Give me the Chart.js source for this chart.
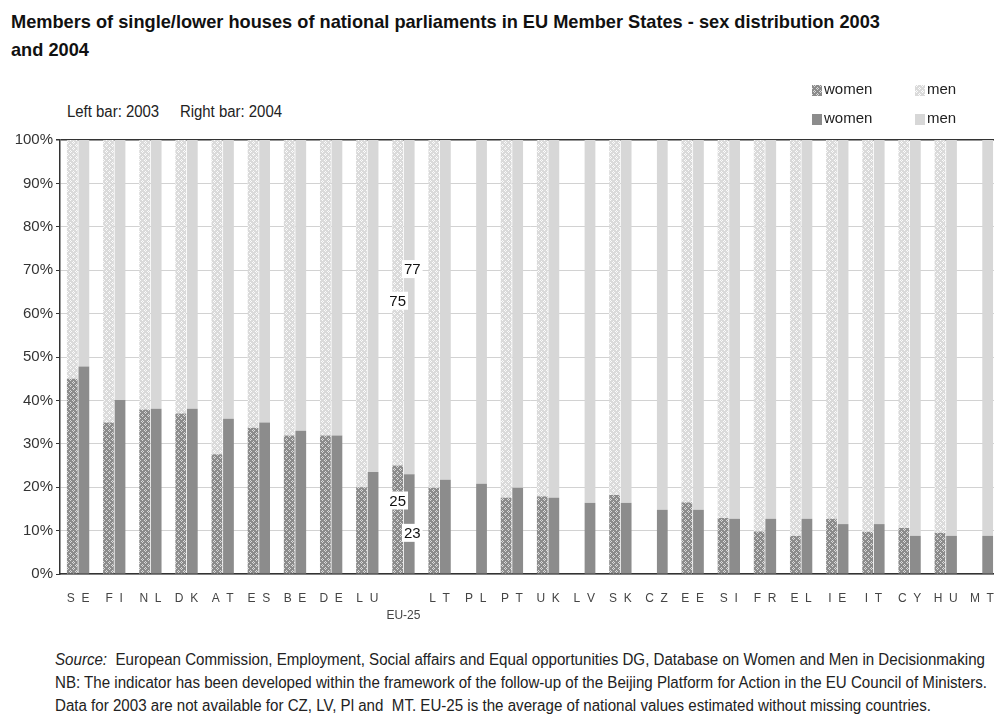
<!DOCTYPE html>
<html>
<head>
<meta charset="utf-8">
<title>Members of national parliaments - sex distribution 2003 and 2004</title>
<script src="https://cdn.jsdelivr.net/npm/chart.js@4.4.1/dist/chart.umd.min.js"></script>
<style>
  body {
    margin: 0;
    width: 994px;
    height: 719px;
    overflow: hidden;
    background: #fff;
    font-family: "Liberation Sans", Arial, sans-serif;
    position: relative;
  }
  .fit {
    position: absolute;
    transform-origin: 0 0;
    white-space: nowrap;
  }
  #title {
    left: 11px;
    top: 8px;
    font-weight: bold;
    font-size: 19px;
    line-height: 28px;
    color: #111;
  }
  #years {
    left: 67px;
    top: 102px;
    font-size: 16px;
    line-height: 20px;
    color: #222;
  }
  #chartBox {
    position: absolute;
    left: 0;
    top: 75px;
  }
  #notes {
    left: 55px;
    top: 648px;
    font-size: 16px;
    line-height: 23px;
    color: #222;
  }
</style>
</head>
<body>
<div id="title" class="fit"><span class="ruler">Members of single/lower houses of national parliaments in EU Member States - sex distribution 2003</span><br>and 2004</div>
<div id="years" class="fit"><span class="ruler">Left bar: 2003&nbsp;&nbsp;&nbsp;&nbsp; Right bar: 2004</span></div>
<div id="chartBox"><canvas id="chart" width="1010" height="560"></canvas></div>
<div id="notes" class="fit">
  <span class="ruler"><i>Source:</i>&nbsp; European Commission, Employment, Social affairs and Equal opportunities DG, Database on Women and Men in Decisionmaking</span><br>
  NB: The indicator has been developed within the framework of the follow-up of the Beijing Platform for Action in the EU Council of Ministers.<br>
  Data for 2003 are not available for CZ, LV, Pl and&nbsp; MT. EU-25 is the average of national values estimated without missing countries.
</div>

<script>
'use strict';

let countries = ['SE', 'FI', 'NL', 'DK', 'AT', 'ES', 'BE', 'DE', 'LU', 'EU-25', 'LT', 'PL', 'PT',
  'UK', 'LV', 'SK', 'CZ', 'EE', 'SI', 'FR', 'EL', 'IE', 'IT', 'CY', 'HU', 'MT'];

// share of seats in %, null = no data for that year
let women2003 = [45, 34.9, 37.9, 37, 27.6, 33.7, 31.9, 31.9, 20, 25, 19.9, null, 17.6,
  17.9, null, 18.2, null, 16.5, 12.9, 9.8, 8.8, 12.7, 9.7, 10.6, 9.5, null];
let men2003 = [55, 65.1, 62.1, 63, 72.4, 66.3, 68.1, 68.1, 80, 75, 80.1, null, 82.4,
  82.1, null, 81.8, null, 83.5, 87.1, 90.2, 91.2, 87.3, 90.3, 89.4, 90.5, null];
let women2004 = [47.8, 40.1, 38.1, 38.1, 35.8, 34.9, 33, 31.9, 23.5, 23, 21.7, 20.8, 19.9,
  17.6, 16.4, 16.4, 14.8, 14.8, 12.7, 12.7, 12.7, 11.5, 11.5, 8.8, 8.8, 8.8];
let men2004 = [52.2, 59.9, 61.9, 61.9, 64.2, 65.1, 67, 68.1, 76.5, 77, 78.3, 79.2, 80.1,
  82.4, 83.6, 83.6, 85.2, 85.2, 87.3, 87.3, 87.3, 88.5, 88.5, 91.2, 91.2, 91.2];

let yTicks = [0, 10, 20, 30, 40, 50, 60, 70, 80, 90, 100];

// squeeze the text blocks so their first line has the wanted width
function fitWidth(id, target) {
  let el = document.getElementById(id);
  let w = el.querySelector('.ruler').getBoundingClientRect().width;
  el.style.transform = 'scaleX(' + (target / w) + ')';
}
fitWidth('title', 869);
fitWidth('years', 215);
fitWidth('notes', 930);

// dotted fill used for the 2003 bars
function makePattern(base, dot) {
  let c = document.createElement('canvas');
  c.width = 6;
  c.height = 6;
  let g = c.getContext('2d');
  g.fillStyle = base;
  g.fillRect(0, 0, 6, 6);
  g.fillStyle = dot;
  let pts = [[1, 0], [0, 1], [2, 1], [1, 2], [4, 3], [3, 4], [5, 4], [4, 5]];
  for (let p of pts) {
    g.fillRect(p[0], p[1], 1, 1);
  }
  return g.createPattern(c, 'repeat');
}

let ctx = document.getElementById('chart').getContext('2d');

let womenDots = makePattern('#8b8b8b', '#dadada');
let menDots = makePattern('#dadada', '#fbfbfb');

// swatches in the top-right corner, two rows of two
const legendBlock = {
  id: 'legendBlock',
  afterDraw(chart, args, opts) {
    let c = chart.ctx;
    let ds = chart.data.datasets;
    c.save();
    c.font = '15px "Liberation Sans", Arial, sans-serif';
    c.textBaseline = 'middle';
    ds.forEach((d, i) => {
      let col = i % 2;
      let row = Math.floor(i / 2);
      let x = opts.x + col * opts.colGap;
      let y = opts.y + row * opts.rowGap;
      c.fillStyle = d.backgroundColor;
      c.fillRect(x, y - 5, 10, 11);
      c.fillStyle = '#222';
      c.fillText(d.label, x + 12, y);
    });
    c.restore();
  }
};

// boxed value labels on the EU-25 bars
const valueBoxes = {
  id: 'valueBoxes',
  afterDatasetsDraw(chart, args, opts) {
    let c = chart.ctx;
    let idx = chart.data.labels.indexOf(opts.category);
    c.save();
    c.font = '15px "Liberation Sans", Arial, sans-serif';
    c.textAlign = 'center';
    c.textBaseline = 'middle';
    for (let lb of opts.labels) {
      let bar = chart.getDatasetMeta(lb.ds).data[idx];
      let v = chart.data.datasets[lb.ds].data[idx];
      let x = bar.x + lb.dx;
      let y = (bar.y + bar.base) / 2 + lb.dy;
      let txt = String(v);
      let w = c.measureText(txt).width + 4;
      c.fillStyle = '#fff';
      c.fillRect(x - w / 2, y - 9, w, 18);
      c.fillStyle = '#111';
      c.fillText(txt, x, y + 1);
    }
    c.restore();
  }
};

new Chart(ctx, {
  type: 'bar',
  data: {
    labels: countries,
    datasets: [
      { label: 'women', data: women2003, stack: 'y2003', backgroundColor: womenDots },
      { label: 'men', data: men2003, stack: 'y2003', backgroundColor: menDots },
      { label: 'women', data: women2004, stack: 'y2004', backgroundColor: '#8c8c8c' },
      { label: 'men', data: men2004, stack: 'y2004', backgroundColor: '#d7d7d7' }
    ]
  },
  options: {
    responsive: false,
    animation: false,
    devicePixelRatio: 1,
    datasets: {
      bar: {
        categoryPercentage: 0.64,
        barPercentage: 0.93,
        borderWidth: 0
      }
    },
    layout: {
      padding: { top: 65, right: 6, bottom: 0, left: 0 }
    },
    scales: {
      x: {
        stacked: true,
        grid: { display: false, drawTicks: false },
        border: { display: true, color: '#333', width: 1.5 },
        ticks: {
          padding: 16,
          color: '#444',
          font: { family: '"Liberation Sans", Arial, sans-serif', size: 12, lineHeight: 1.4 },
          maxRotation: 0,
          autoSkip: false,
          callback: function (value) {
            let name = this.getLabelForValue(value);
            if (name === 'EU-25') {
              return ['', name];
            }
            return name.split('').join('  ');
          }
        },
        afterFit: function (scale) {
          scale.height = 61;
        }
      },
      y: {
        stacked: true,
        min: 0,
        max: 100,
        afterBuildTicks: function (scale) {
          scale.ticks = yTicks.map(v => ({ value: v }));
        },
        grid: {
          color: c => (c.tick && c.tick.value === 100 ? '#333' : '#d2d2d2'),
          lineWidth: c => (c.tick && c.tick.value === 100 ? 1.5 : 1),
          tickColor: '#333',
          tickLength: 4
        },
        border: { display: true, color: '#333', width: 1.5 },
        ticks: {
          padding: 3,
          color: '#333',
          font: { family: '"Liberation Sans", Arial, sans-serif', size: 15 },
          callback: v => v + '%'
        },
        afterFit: function (scale) {
          scale.width = 60;
        }
      }
    },
    plugins: {
      legend: { display: false },
      tooltip: { enabled: false },
      legendBlock: { x: 812, y: 15, colGap: 103, rowGap: 29 },
      valueBoxes: {
        category: 'EU-25',
        labels: [
          { ds: 1, dx: 0, dy: -2 },
          { ds: 3, dx: 3, dy: -38 },
          { ds: 0, dx: 0, dy: -19 },
          { ds: 2, dx: 3, dy: 9 }
        ]
      }
    }
  },
  plugins: [legendBlock, valueBoxes]
});
</script>
</body>
</html>
